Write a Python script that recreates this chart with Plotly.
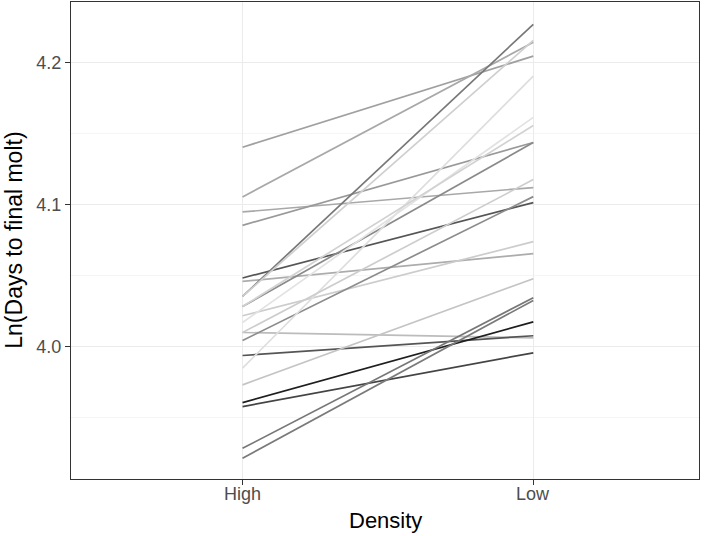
import plotly.graph_objects as go

# Data: ln(days to final molt) per family at High and Low density
families = [f"F{i}" for i in range(1, 23)]
high_vals = [4.1406, 4.1056, 4.0950, 4.0856, 4.0485, 4.0461, 4.0355, 4.0284,
             4.0355, 4.0219, 4.0101, 4.0044, 3.9939, 3.9732, 3.9607, 3.9579,
             3.9285, 3.9215, 3.9850, 4.0171, 4.0284, 4.0101]
low_vals = [4.2048, 4.2145, 4.1122, 4.1439, 4.1016, 4.0656, 4.2272, 4.1439,
            4.2159, 4.0741, 4.0063, 4.1058, 4.0078, 4.0480, 4.0176, 3.9958,
            4.0346, 4.0327, 4.1907, 4.1616, 4.1559, 4.1178]
family_colors = ["#a0a0a0", "#a8a8a8", "#a8a8a8", "#999999", "#555555", "#acacac",
                 "#777777", "#8a8a8a", "#cfcfcf", "#cccccc", "#bcbcbc", "#8c8c8c",
                 "#555555", "#c4c4c4", "#1e1e1e", "#444444", "#777777", "#7a7a7a",
                 "#dedede", "#e2e2e2", "#d2d2d2", "#cdcdcd"]
density_levels = ["High", "Low"]
y_ticks = [4.0, 4.1, 4.2]
y_minor = [3.95, 4.05, 4.15]

fig = go.Figure()
for fam, h, l, c in zip(families, high_vals, low_vals, family_colors):
    fig.add_trace(go.Scatter(x=density_levels, y=[h, l], mode="lines",
                             line=dict(color=c, width=1.7), name=fam,
                             showlegend=False, hoverinfo="skip"))

FONT = "Liberation Sans, Arial, Helvetica, sans-serif"
axis_font = dict(family=FONT, size=18, color="#4d4d4d")
xtitle_font = dict(family=FONT, size=22, color="#000000")
ytitle_font = dict(family=FONT, size=23, color="#000000")

annotations = [
    dict(text="Density", xref="paper", yref="paper", x=0.5, y=-0.088,
         xanchor="center", yanchor="middle", showarrow=False, font=xtitle_font),
    dict(text="Ln(Days to final molt)", xref="paper", yref="paper", x=-0.092, y=0.5,
         xanchor="center", yanchor="middle", textangle=-90, showarrow=False,
         font=ytitle_font),
]
for lvl in density_levels:
    annotations.append(dict(text=lvl, xref="x", yref="paper", x=lvl, y=-0.032,
                            xanchor="center", yanchor="middle", showarrow=False,
                            font=axis_font))

fig.update_layout(
    width=709, height=536,
    margin=dict(l=71, r=10, t=2, b=57, autoexpand=False),
    paper_bgcolor="white", plot_bgcolor="white",
    showlegend=False,
    annotations=annotations,
)
fig.update_xaxes(
    type="category", categoryorder="array", categoryarray=density_levels,
    range=[-0.59, 1.57], automargin=False,
    showgrid=True, gridcolor="#ebebeb", gridwidth=1,
    showline=True, linecolor="#333333", linewidth=1, mirror=True,
    ticks="outside", ticklen=5, tickcolor="#333333", tickwidth=1,
    showticklabels=False, zeroline=False,
)
fig.update_yaxes(
    range=[3.9069, 4.2429], automargin=False,
    tickvals=y_ticks, ticktext=[f"{v:.1f}" for v in y_ticks],
    showgrid=True, gridcolor="#ebebeb", gridwidth=1,
    minor=dict(tickvals=y_minor, showgrid=True, gridcolor="#f5f5f5", gridwidth=0.6, ticks=""),
    showline=True, linecolor="#333333", linewidth=1, mirror=True,
    ticks="outside", ticklen=5, tickcolor="#333333", tickwidth=1,
    tickfont=axis_font, zeroline=False,
)

fig.write_html("out.html", config={"displayModeBar": False},
               post_script="document.body.style.margin='0';")
